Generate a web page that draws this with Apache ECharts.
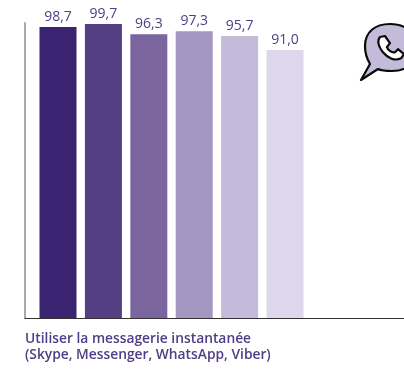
<!DOCTYPE html>
<html><head><meta charset="utf-8">
<style>html,body{margin:0;padding:0;background:#fff}#c{width:404px;height:372px}</style>
<script src="https://cdn.jsdelivr.net/npm/echarts@6/dist/echarts.min.js"></script>
</head><body><div id="c"></div>
<script>
const positions = [1, 2, 3, 4, 5, 6];
const values = [98.7, 99.7, 96.3, 97.3, 95.7, 91.0];
const labels = ['98,7', '99,7', '96,3', '97,3', '95,7', '91,0'];
const colors = ['#3a2370', '#553f84', '#7a659e', '#a397c1', '#c4bbdb', '#dcd7ea'];
const caption = 'Utiliser la messagerie instantanée\n(Skype, Messenger, WhatsApp, Viber)';
const bubblePath = 'M390 24 C375 24 365 32 365 46 C365 54 367 59 370 64 L361 80 L378 69 C382 71 386 71 392 71 C408 71 416 62 416 47 C416 32 405 24 390 24 Z';
const phonePath = 'M380 37 L385 36 L390 43 L387 47 C388 50 392 53 395 52 L398 49 L404 54 L401 58 C395 61 388 58 383 52 C379 47 377 41 380 37 Z';

const chart = echarts.init(document.getElementById('c'), null, {renderer: 'canvas'});
chart.setOption({
  animation: false,
  backgroundColor: '#fff',
  grid: {left: 25, right: 0, top: 23, bottom: 54},
  title: {
    text: caption, left: 25, top: 331, padding: 0,
    textStyle: {fontFamily: 'Open Sans', fontSize: 13.8, fontWeight: 600, color: '#4f3d85', lineHeight: 16}
  },
  xAxis: {
    type: 'value', min: 0.273, max: 8.62,
    axisLine: {show: true, onZero: false, lineStyle: {color: '#333', width: 1}},
    axisTick: {show: false}, axisLabel: {show: false}, splitLine: {show: false}
  },
  yAxis: {
    type: 'value', min: 1.7, max: 100.03,
    axisLine: {show: true, onZero: false, lineStyle: {color: '#aaa', width: 2}},
    axisTick: {show: false}, axisLabel: {show: false}, splitLine: {show: false}
  },
  series: [{
    type: 'bar', barWidth: 37,
    data: values.map((v, i) => ({
      value: [positions[i], v],
      itemStyle: {color: colors[i]},
      label: {
        show: true, position: 'top', distance: 3, formatter: labels[i],
        fontFamily: 'Open Sans', fontSize: 14, color: '#4f3d85'
      }
    }))
  }, {
    type: 'custom', coordinateSystem: 'none', silent: true, z: 10, data: [0],
    renderItem: () => ({
      type: 'group',
      children: [
        {type: 'path', shape: {pathData: bubblePath, x: 361, y: 24, width: 55, height: 56, layout: 'cover'},
         style: {fill: '#c4bbdb', stroke: '#0a0a0a', lineWidth: 2.2, lineJoin: 'round'}},
        {type: 'path', shape: {pathData: phonePath, x: 378.5, y: 36, width: 25.5, height: 23.5, layout: 'cover'},
         style: {fill: '#fff', stroke: '#0a0a0a', lineWidth: 2.2, lineJoin: 'round'}}
      ]
    })
  }]
});
</script></body></html>
